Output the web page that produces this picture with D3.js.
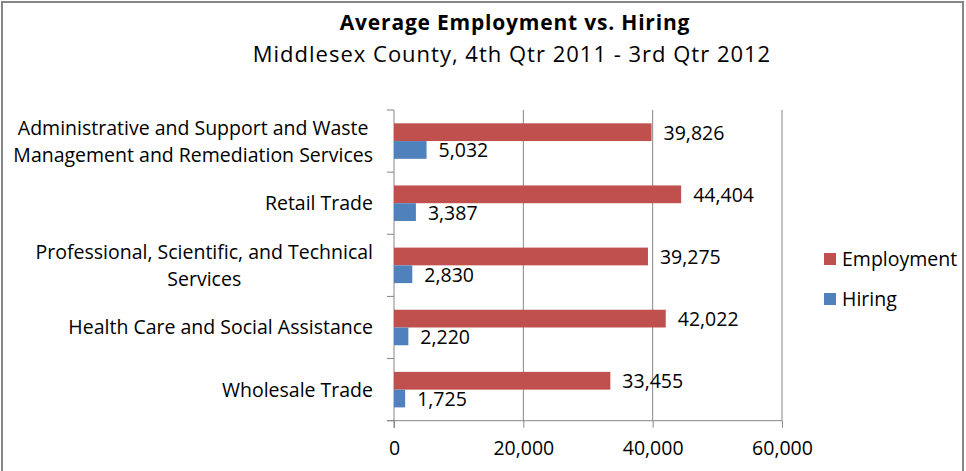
<!DOCTYPE html>
<html><head><meta charset="utf-8">
<script src="https://cdn.jsdelivr.net/npm/d3@7"></script>
<style>body{margin:0;background:#fff}svg{display:block}</style>
</head><body>
<svg id="c" width="966" height="471"></svg>
<script>
const categories = [
  "Administrative and Support and Waste\nManagement and Remediation Services",
  "Retail Trade",
  "Professional, Scientific, and Technical\nServices",
  "Health Care and Social Assistance",
  "Wholesale Trade"
];
const seriesNames = ["Employment", "Hiring"];
const employment = [39826, 44404, 39275, 42022, 33455];
const hiring = [5032, 3387, 2830, 2220, 1725];
const xTicks = [0, 20000, 40000, 60000];
const colors = ["#C0504D", "#4F81BD"];
const title = "Average Employment vs. Hiring";
const subtitle = "Middlesex County, 4th Qtr 2011 - 3rd Qtr 2012";

const FONT = "'Open Sans', Lato, sans-serif";
const FS = 19.5;
const svg = d3.select("#c");
svg.append("rect").attr("x", 2).attr("y", 2).attr("width", 961).attr("height", 480)
  .attr("fill", "#fff").attr("stroke", "#868686").attr("stroke-width", 2);

svg.append("text").attr("x", 515).attr("y", 30).attr("text-anchor", "middle")
  .attr("font-family", FONT).attr("font-weight", "bold").attr("font-size", 21)
  .attr("letter-spacing", 0.8).attr("fill", "#000").text(title);
svg.append("text").attr("x", 512).attr("y", 62).attr("text-anchor", "middle")
  .attr("font-family", FONT).attr("font-size", 22).attr("letter-spacing", 1)
  .attr("fill", "#000").text(subtitle);

const x = d3.scaleLinear().domain([0, 60000]).range([394, 782]);
const y = d3.scaleBand().domain(categories).range([110, 420.7]).padding(0);
const ys = d3.scaleBand().domain(seriesNames).range([0, y.bandwidth()]).paddingInner(0).paddingOuter(0.75);
const fmt = d3.format(",");
const grid = "#868686";

svg.append("g").selectAll("line").data(xTicks.slice(1)).join("line")
  .attr("x1", d => x(d)).attr("x2", d => x(d)).attr("y1", 110).attr("y2", 420.7)
  .attr("stroke", grid).attr("stroke-width", 1);

const xAxis = svg.append("g").attr("transform", "translate(0,420.7)")
  .call(d3.axisBottom(x).tickValues(xTicks).tickFormat(fmt).tickSize(7).tickPadding(13));
xAxis.select(".domain").attr("d", `M387,0H${x(60000)}`).attr("stroke", grid);
xAxis.selectAll(".tick line").attr("stroke", grid);
xAxis.selectAll(".tick text").attr("font-family", FONT).attr("font-size", FS).attr("fill", "#000");

const bounds = categories.map(c => y(c)).concat([y.range()[1]]);
svg.append("line").attr("x1", 394).attr("x2", 394).attr("y1", 110).attr("y2", 428).attr("stroke", grid);
svg.append("g").selectAll("line").data(bounds).join("line")
  .attr("x1", 387).attr("x2", 394).attr("y1", d => d).attr("y2", d => d).attr("stroke", grid);

const rows = categories.map((c, i) => ({c, vals: [employment[i], hiring[i]]}));
const gRows = svg.append("g").selectAll("g").data(rows).join("g")
  .attr("transform", d => `translate(0,${y(d.c)})`);
seriesNames.forEach((s, si) => {
  gRows.append("rect").attr("x", x(0)).attr("y", ys(s))
    .attr("width", d => x(d.vals[si]) - x(0)).attr("height", ys.bandwidth())
    .attr("fill", colors[si]);
  gRows.append("text").attr("x", d => x(d.vals[si]) + 12)
    .attr("y", ys(s) + ys.bandwidth() / 2 + 7.5)
    .attr("font-family", FONT).attr("font-size", FS).attr("fill", "#000")
    .text(d => fmt(d.vals[si]));
});

const labelRight = 373;
categories.forEach(c => {
  const lines = c.split("\n");
  const g = svg.append("g");
  const texts = lines.map((ln, li) => g.append("text")
    .attr("font-family", FONT).attr("font-size", FS).attr("fill", "#000")
    .attr("text-anchor", "middle")
    .attr("y", y(c) + y.bandwidth() / 2 + 7 + (li - (lines.length - 1) / 2) * 27)
    .text(ln));
  const w = d3.max(texts, t => t.node().getComputedTextLength());
  texts.forEach(t => t.attr("x", labelRight - w / 2));
});

seriesNames.forEach((s, i) => {
  const ly = 259 + i * 40;
  svg.append("rect").attr("x", 824).attr("y", ly - 6).attr("width", 12).attr("height", 12).attr("fill", colors[i]);
  svg.append("text").attr("x", 842).attr("y", ly + 7).attr("font-family", FONT).attr("font-size", FS)
    .attr("fill", "#000").text(s);
});
</script>
</body></html>
